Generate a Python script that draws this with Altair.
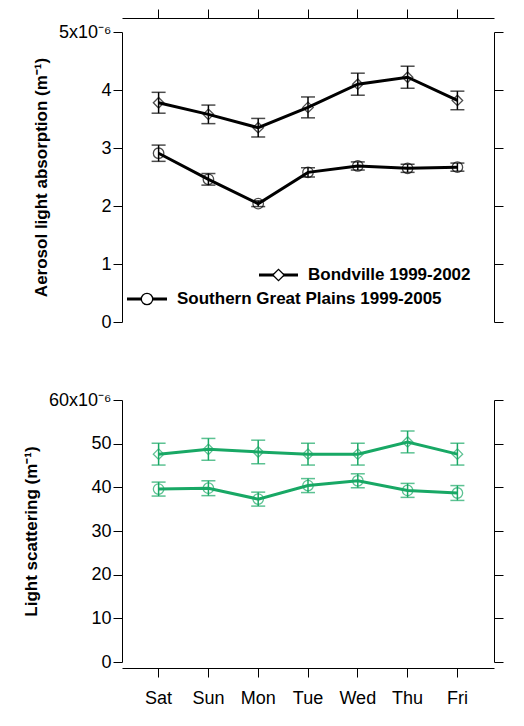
import altair as alt
import pandas as pd

days = ["Sat", "Sun", "Mon", "Tue", "Wed", "Thu", "Fri"]

# absorption, units of 1e-6 m^-1
bond_abs = [3.78, 3.58, 3.35, 3.70, 4.10, 4.22, 3.82]
bond_abs_err = [0.18, 0.16, 0.16, 0.18, 0.19, 0.19, 0.16]
sgp_abs = [2.91, 2.46, 2.04, 2.58, 2.69, 2.65, 2.67]
sgp_abs_err = [0.14, 0.10, 0.05, 0.08, 0.07, 0.07, 0.07]

# scattering, units of 1e-6 m^-1
bond_sca = [47.6, 48.7, 48.1, 47.6, 47.6, 50.4, 47.6]
bond_sca_err = [2.5, 2.5, 2.7, 2.5, 2.5, 2.5, 2.5]
sgp_sca = [39.6, 39.8, 37.3, 40.4, 41.5, 39.3, 38.7]
sgp_sca_err = [1.6, 1.7, 1.6, 1.6, 1.6, 1.6, 1.7]

FONT = "Liberation Sans"
GREEN = "#18a865"
W = 372


def frame(vals, errs, shape):
    return pd.DataFrame({
        "day": days, "v": vals,
        "lo": [v - e for v, e in zip(vals, errs)],
        "hi": [v + e for v, e in zip(vals, errs)],
        "shape": shape,
    })


def panel(dfs, color, ymax, step, top_label, title, top_axis, bottom_axis):
    data = pd.concat(dfs)
    xscale = alt.Scale(domain=days, padding=0.47)
    ticks = list(range(0, ymax + 1, step))
    yaxis = alt.Axis(title=title, values=ticks,
                     labelExpr=f"datum.value == {ymax} ? '{top_label}' : datum.label",
                     labelFontSize=18, labelFont=FONT, labelColor="black", tickSize=9,
                     tickColor="black", domainColor="black", titleFont=FONT,
                     titleFontSize=17, titleFontWeight="bold", titleColor="black",
                     titlePadding=8)
    ysc = alt.Scale(domain=[0, ymax], nice=False, zero=True)
    X = alt.X("day:O", scale=xscale, sort=days, axis=None)
    base = alt.Chart(data)
    line = base.mark_line(color=color, strokeWidth=3).encode(
        x=X, y=alt.Y("v:Q", scale=ysc, axis=yaxis), detail="shape:N")
    pts = base.mark_point(color=color, filled=False, size=110, strokeWidth=1.3).encode(
        x=X, y=alt.Y("v:Q", scale=ysc, axis=None),
        shape=alt.Shape("shape:N", scale=alt.Scale(domain=["d", "c"], range=["diamond", "circle"]),
                        legend=None),
    )
    bars = base.mark_rule(color=color, strokeWidth=1.5).encode(
        x=X, y=alt.Y("lo:Q", scale=ysc, axis=None), y2="hi:Q")
    caps_lo = base.mark_tick(color=color, orient="horizontal", size=14, thickness=1.5).encode(
        x=X, y=alt.Y("lo:Q", scale=ysc, axis=None))
    caps_hi = base.mark_tick(color=color, orient="horizontal", size=14, thickness=1.5).encode(
        x=X, y=alt.Y("hi:Q", scale=ysc, axis=None))
    tdf = pd.DataFrame({"t": ticks})
    right = alt.Chart(tdf).mark_point(opacity=0).encode(
        y=alt.Y("t:Q", scale=ysc,
                axis=alt.Axis(orient="right", labels=False, title=None, values=ticks,
                              tickSize=9, tickColor="black", domainColor="black")))
    layers = [line, bars, caps_lo, caps_hi, pts, right]
    if top_axis:
        layers.append(base.mark_point(opacity=0).encode(
            y=alt.Y("v:Q", scale=ysc, axis=None),
            x=alt.X("day:O", scale=xscale, sort=days,
                    axis=alt.Axis(orient="top", labels=False, title=None, offset=14,
                                  tickSize=9, tickColor="black", domainColor="black"))))
    if bottom_axis:
        layers.append(base.mark_point(opacity=0).encode(
            y=alt.Y("v:Q", scale=ysc, axis=None),
            x=alt.X("day:O", scale=xscale, sort=days,
                    axis=alt.Axis(orient="bottom", title=None, offset=6, labelAngle=0,
                                  labelFontSize=18, labelPadding=12, tickSize=9,
                                  domainColor="black", tickColor="black",
                                  labelColor="black", labelFont=FONT))))
    return layers


dfa = [frame(bond_abs, bond_abs_err, "d"), frame(sgp_abs, sgp_abs_err, "c")]
dfs = [frame(bond_sca, bond_sca_err, "d"), frame(sgp_sca, sgp_sca_err, "c")]

top_layers = panel(dfa, "black", 5, 1, "5x10⁻⁶", "Aerosol light absorption (m⁻¹)", True, False)
bottom_layers = panel(dfs, GREEN, 60, 10, "60x10⁻⁶", "Light scattering (m⁻¹)", False, True)

leg = pd.DataFrame({"label": ["Bondville 1999-2002", "Southern Great Plains 1999-2005"]})


def legend_row(df, shape, x0, x1, y):
    r = alt.Chart(df).mark_rule(color="black", strokeWidth=3).encode(
        x=alt.value(x0), x2=alt.value(x1), y=alt.value(y))
    p = alt.Chart(df).mark_point(shape=shape, filled=False, fill="white", fillOpacity=1,
                                 stroke="black", size=130, strokeWidth=1.3, opacity=1).encode(
        x=alt.value((x0 + x1) / 2), y=alt.value(y))
    t = alt.Chart(df).mark_text(align="left", baseline="middle", font=FONT, fontSize=17,
                                fontWeight="bold", color="black").encode(
        x=alt.value(x1 + 10), y=alt.value(y), text="label:N")
    return [r, p, t]


legend = legend_row(leg.iloc[[0]], "diamond", 137, 176, 243) + \
    legend_row(leg.iloc[[1]], "circle", 5, 45, 267)

top = alt.layer(*top_layers, *legend).resolve_axis(y="independent", x="independent") \
    .properties(width=W, height=290)
bottom = alt.layer(*bottom_layers).resolve_axis(y="independent", x="independent") \
    .properties(width=W, height=262)

chart = alt.vconcat(top, bottom, spacing=60).configure_view(stroke=None).configure_axis(
    grid=False).properties(padding={"left": 14, "top": 0, "right": 5, "bottom": 0})

chart.save("out.html", embed_options={"renderer": "svg", "actions": False})
